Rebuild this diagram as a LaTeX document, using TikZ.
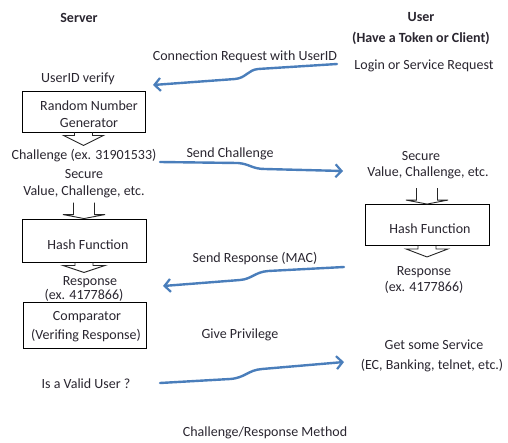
\documentclass[tikz,border=0pt]{standalone}
\usepackage{fontspec}
\setmainfont{Carlito}
\usetikzlibrary{arrows.meta}
\definecolor{flowblue}{HTML}{4A7EBB}
\definecolor{inkc}{HTML}{2A2630}
\tikzset{
  txt/.style={text=inkc, inner sep=0pt, align=center, font=\fontsize{14}{16}\selectfont},
  hdr/.style={txt, font=\fontsize{14}{16}\selectfont\bfseries},
  box/.style={draw=black, line width=0.9pt, txt, align=center},
  flow/.style={draw=flowblue, line width=2.4pt, line cap=round, -{Straight Barb[length=6pt,width=13pt,line width=2.2pt]}},
  chev/.style={draw=black!85, line width=0.9pt, line join=miter},
}
\begin{document}
\begin{tikzpicture}[x=1pt,y=-1pt]
\useasboundingbox[fill=white] (0,0) rectangle (508,442);
% headers
\node[hdr] (srv) at (79,18) {Server};
\node[hdr] (usr) at (421,17) {User};
\node[hdr] (usr2) at (421,38) {(Have a Token or Client)};
% server side
\node[txt] (uidv) at (78,79) {UserID verify};
\node[box, minimum width=123pt, minimum height=41pt] (rng) at (83.5,111.5) {};
\node[txt] (rngt1) at (89,106) {Random Number};
\node[txt] (rngt2) at (89,123) {Generator};
\node[txt] (chal) at (84,156) {Challenge (ex. 31901533)};
\node[txt] (secL1) at (84,174) {Secure};
\node[txt] (secL2) at (84,192) {Value, Challenge, etc.};
\node[box, minimum width=124pt, minimum height=43pt] (hashL) at (84,240.5) {};
\node[txt] (hashLt) at (88,245) {Hash Function};
\node[txt] (respL1) at (90,282) {Response};
\node[txt] (respL2) at (84,295) {(ex. 4177866)};
\node[box, minimum width=123pt, minimum height=46pt] (comp) at (84.5,325) {};
\node[txt] (compt1) at (87,317) {Comparator};
\node[txt] (compt2) at (86,336) {(Verifing Response)};
\node[txt] (valid) at (86,384) {Is a Valid User ?};
% user side
\node[txt] (login) at (424,66) {Login or Service Request};
\node[txt] (secR1) at (421,156) {Secure};
\node[txt] (secR2) at (428,173) {Value, Challenge, etc.};
\node[box, minimum width=124pt, minimum height=41pt] (hashR) at (427,225) {};
\node[txt] (hashRt) at (430,229) {Hash Function};
\node[txt] (respR1) at (424,272) {Response};
\node[txt] (respR2) at (424,287) {(ex. 4177866)};
\node[txt] (serv1) at (434,345) {Get some Service};
\node[txt] (serv2) at (432,366) {(EC, Banking, telnet, etc.)};
% message labels
\node[txt] (lconn) at (245,57) {Connection Request with UserID};
\node[txt] (lchal) at (230,154) {Send Challenge};
\node[txt] (lresp) at (255,259) {Send Response (MAC)};
\node[txt] (lpriv) at (240,335) {Give Privilege};
\node[txt] (title) at (265,433) {Challenge/Response Method};
% chevrons (block arrow heads)
\draw[chev] (rng.south) ++(-9,0) -- ++(0,3) -- ++(-11,0) -- ++(20,10) -- ++(20,-10) -- ++(-11,0) -- ++(0,-3);
\draw[chev] (hashL.north) ++(-10.5,-16) -- ++(0,12) -- ++(-10.5,0) -- ++(21,4) -- ++(21,-4) -- ++(-10.5,0) -- ++(0,-12);
\draw[chev] (hashL.south) ++(-9,0) -- ++(0,3) -- ++(-12,0) -- ++(21,7) -- ++(21,-7) -- ++(-12,0) -- ++(0,-3);
\draw[chev] (hashR.north) ++(-10.5,-16) -- ++(0,12) -- ++(-10.5,0) -- ++(21,4) -- ++(21,-4) -- ++(-10.5,0) -- ++(0,-12);
\draw[chev] (hashR.south) ++(-9,0) -- ++(0,3) -- ++(-12,0) -- ++(21,8) -- ++(21,-8) -- ++(-12,0) -- ++(0,-3);
% flow arrows
\coordinate (c1a) at (337,64);  \coordinate (c1b) at (153,85);
\coordinate (c2a) at (160,162); \coordinate (c2b) at (343,171);
\coordinate (c3a) at (344,267); \coordinate (c3b) at (163,286);
\coordinate (c4a) at (160,383); \coordinate (c4b) at (344,362);
\draw[flow] (c1a) -- (258,69) .. controls (248,70) and (246,78) .. (235,79) -- (c1b);
\draw[flow] (c2a) -- (238,163) .. controls (250,164) and (252,169) .. (265,169) -- (c2b);
\draw[flow] (c3a) -- (268,271) .. controls (255,272) and (252,279) .. (240,280) -- (c3b);
\draw[flow] (c4a) -- (230,379) .. controls (245,378) and (248,370) .. (262,369) -- (c4b);
\end{tikzpicture}
\end{document}
